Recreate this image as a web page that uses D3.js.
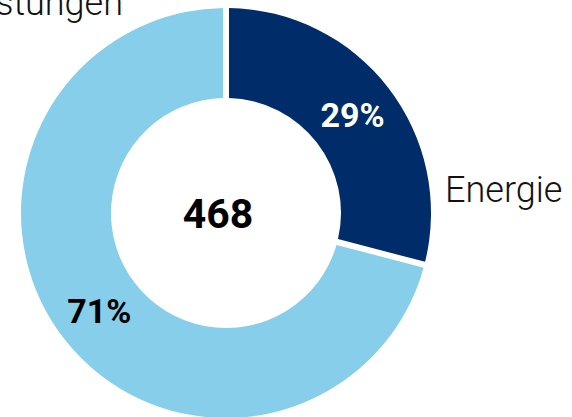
<!DOCTYPE html>
<html>
<head>
<meta charset="utf-8">
<script src="https://cdn.jsdelivr.net/npm/d3@7"></script>
<style>
  html, body { margin: 0; padding: 0; background: #ffffff; }
  svg { display: block; }
</style>
</head>
<body>
<div id="chart"></div>
<script>
// data
const categories = ["Energie", "Dienstleistungen"];
const values = [136, 332];
const total = 468;

const COLORS = ["#002c69", "#87ceea"];
const width = 572, height = 417;
const cx = 226, cy = 213;
const outerR = 205, innerR = 115;

const svg = d3.select("#chart").append("svg")
  .attr("width", width)
  .attr("height", height);

const g = svg.append("g").attr("transform", `translate(${cx},${cy})`);

const pie = d3.pie().sort(null).value(d => d.value);
const arcs = pie(categories.map((c, i) => ({ name: c, value: values[i] })));

const arc = d3.arc()
  .innerRadius(innerR)
  .outerRadius(outerR)
  .padRadius(outerR)
  .padAngle(6 / outerR);

g.selectAll("path.slice")
  .data(arcs)
  .enter().append("path")
  .attr("class", "slice")
  .attr("d", arc)
  .attr("fill", (d, i) => COLORS[i]);

// percent labels in the ring
const pct = d3.format(".0%");
g.selectAll("text.pct")
  .data(arcs)
  .enter().append("text")
  .attr("class", "pct")
  .attr("transform", d => `translate(${arc.centroid(d)})`)
  .attr("text-anchor", "middle")
  .attr("dy", "0.36em")
  .attr("font-family", "Roboto, sans-serif")
  .attr("font-weight", 700)
  .attr("font-size", "34px")
  .attr("fill", (d, i) => i === 0 ? "#ffffff" : "#000000")
  .text(d => pct(d.value / total));

// total in the middle
g.append("text")
  .attr("text-anchor", "middle")
  .attr("x", -8)
  .attr("y", 15)
  .attr("font-family", "Roboto, sans-serif")
  .attr("font-weight", 700)
  .attr("font-size", "41px")
  .attr("fill", "#000")
  .text(total);

// category labels outside
svg.append("text")
  .attr("x", 445).attr("y", 202)
  .attr("font-family", "Roboto, sans-serif")
  .attr("font-weight", 300)
  .attr("font-size", "36px")
  .attr("fill", "#111")
  .text(categories[0]);

svg.append("text")
  .attr("x", 123).attr("y", 15)
  .attr("text-anchor", "end")
  .attr("font-family", "Roboto, sans-serif")
  .attr("font-weight", 300)
  .attr("font-size", "36px")
  .attr("fill", "#111")
  .text(categories[1]);
</script>
</body>
</html>
